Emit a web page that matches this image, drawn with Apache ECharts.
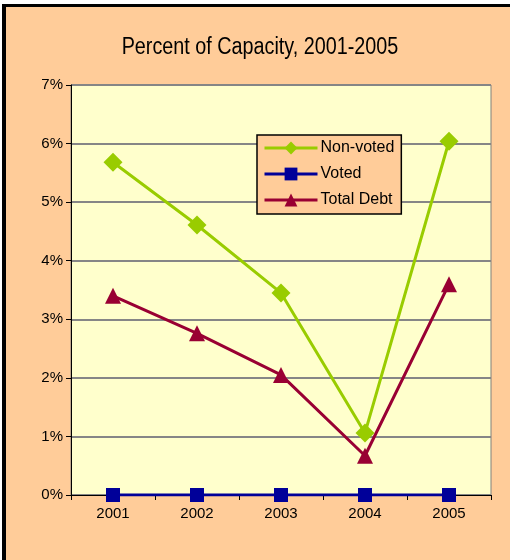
<!DOCTYPE html>
<html>
<head>
<meta charset="utf-8">
<script src="https://cdn.jsdelivr.net/npm/echarts@6/dist/echarts.min.js"></script>
<style>
  html, body { margin: 0; padding: 0; background: #FFCC99; overflow: hidden; }
  #chart { position: absolute; left: 0; top: 0; width: 510px; height: 560px; }
</style>
</head>
<body>
<div id="chart"></div>
<script>
var years = ['2001', '2002', '2003', '2004', '2005']
var nonVoted = [5.68, 4.61, 3.45, 1.06, 6.04]
var voted = [0, 0, 0, 0, 0]
var totalDebt = [3.40, 2.76, 2.05, 0.67, 3.60]

var chart = echarts.init(document.getElementById('chart'))
var labelFont = { color: '#000', fontSize: 15, fontFamily: 'Liberation Sans, Arial, sans-serif' }

chart.setOption({
  backgroundColor: '#FFCC99',
  animation: false,
  graphic: [
    // white strip and black frame edges, top and left
    { type: 'rect', shape: { x: 0, y: 0, width: 510, height: 4 }, style: { fill: '#fff' }, z: -1 },
    { type: 'rect', shape: { x: 0, y: 0, width: 2, height: 560 }, style: { fill: '#fff' }, z: -1 },
    { type: 'rect', shape: { x: 2, y: 4, width: 508, height: 3 }, style: { fill: '#000' }, z: -1 },
    { type: 'rect', shape: { x: 2, y: 4, width: 4, height: 556 }, style: { fill: '#000' }, z: -1 },
    {
      type: 'text', x: 260, y: 48, scaleX: 0.86,
      style: {
        text: 'Percent of Capacity, 2001-2005',
        font: '23px "Liberation Sans", Arial, sans-serif',
        fill: '#000', align: 'center', verticalAlign: 'middle'
      }
    }
  ],
  grid: {
    left: 71, right: 19, top: 85, bottom: 65,
    show: true, backgroundColor: '#FFFFCC', borderColor: '#808080', borderWidth: 1
  },
  legend: {
    orient: 'vertical', left: 257, top: 135,
    backgroundColor: '#FFCC99', borderColor: '#000', borderWidth: 1.5,
    padding: [5, 7, 6, 6], itemGap: 10, itemWidth: 53, itemHeight: 16,
    lineStyle: { width: 3 },
    textStyle: Object.assign({}, labelFont, { fontSize: 16, padding: [0, 0, 0, -2] })
  },
  xAxis: {
    type: 'category', data: years, boundaryGap: true,
    axisLine: { lineStyle: { color: '#000', width: 1 } },
    axisTick: { show: true, length: 5, lineStyle: { color: '#000' } },
    axisLabel: Object.assign({ margin: 11 }, labelFont)
  },
  yAxis: {
    type: 'value', min: 0, max: 7, interval: 1,
    axisLine: { show: true, lineStyle: { color: '#000', width: 1 } },
    axisTick: { show: true, length: 5, lineStyle: { color: '#000' } },
    axisLabel: Object.assign({ margin: 8, formatter: '{value}%' }, labelFont),
    splitLine: { lineStyle: { color: '#868686', width: 2 } }
  },
  series: [
    {
      name: 'Non-voted', type: 'line', data: nonVoted,
      symbol: 'diamond', symbolSize: 19,
      lineStyle: { color: '#99CC00', width: 3 }, itemStyle: { color: '#99CC00' }
    },
    {
      name: 'Voted', type: 'line', data: voted,
      symbol: 'rect', symbolSize: 14,
      lineStyle: { color: '#000099', width: 3 }, itemStyle: { color: '#000099' }
    },
    {
      name: 'Total Debt', type: 'line', data: totalDebt,
      symbol: 'triangle', symbolSize: 16,
      lineStyle: { color: '#990033', width: 3 }, itemStyle: { color: '#990033' }
    }
  ]
})
</script>
</body>
</html>
